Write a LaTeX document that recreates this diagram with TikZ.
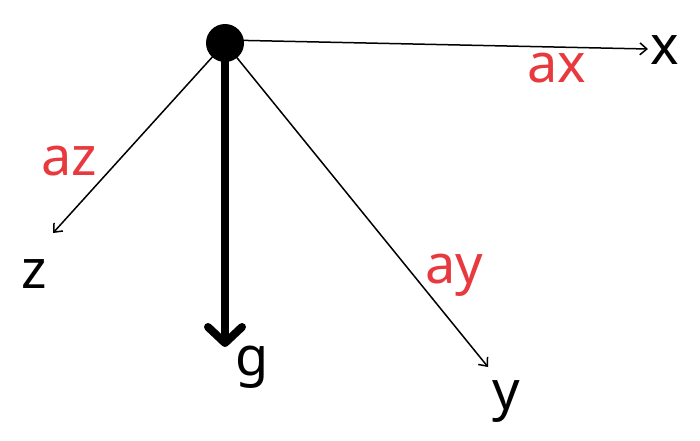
\documentclass[tikz,border=0pt]{standalone}
\usepackage{fontspec}
\setmainfont{Noto Sans}
\usepackage{tikz}
\usetikzlibrary{arrows.meta}
\definecolor{labred}{RGB}{232,58,62}
\tikzset{axis/.style={line width=1.5pt,-{Straight Barb[length=7pt,width=12pt,line width=1.5pt]}},
lab/.style={font=\fontsize{54}{60}\selectfont,inner sep=0pt,anchor=base},
acc/.style={lab,text=labred}}

\begin{document}
\begin{tikzpicture}[x=1pt,y=-1pt]
\useasboundingbox (0,0) rectangle (700,440);
\node[circle,fill=black,minimum size=38pt,inner sep=0pt] (dot) at (225,43) {};
\coordinate (xend) at (648,49);
\coordinate (zend) at (53,233);
\coordinate (yend) at (488,367);
\coordinate (gend) at (225,347);
\draw[axis] (225,40) -- (xend);
\draw[axis] (dot.center) -- (zend);
\draw[axis] (dot.center) -- (yend);
\draw[line width=8pt,line cap=round,-{Straight Barb[round,length=16pt,width=34pt,line width=8pt]}] (dot.center) -- (gend);
\node[lab] (xlab) at (665,64) {x};
\node[lab] (zlab) at (34,288) {z};
\node[lab] (glab) at (252,375) {g};
\node[lab] (ylab) at (506,409) {y};
\node[acc] (axlab) at (557,82) {ax};
\node[acc] (azlab) at (69,175) {az};
\node[acc] (aylab) at (454,283) {ay};
\end{tikzpicture}
\end{document}
